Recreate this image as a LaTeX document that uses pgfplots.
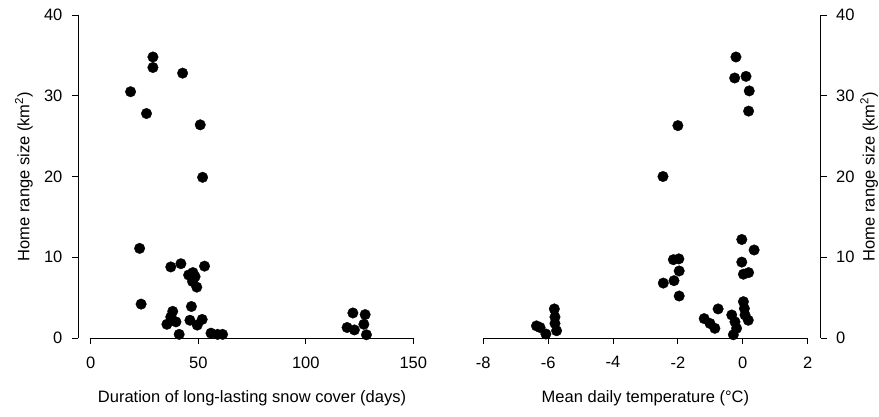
\documentclass[border=0pt]{standalone}
\usepackage{fontspec}
\setmainfont{Liberation Sans}
\usepackage{pgfplots}
\pgfplotsset{compat=1.18}
\pgfplotstableread{
x y
28.9 34.8
28.9 33.5
42.7 32.8
18.5 30.5
25.9 27.8
50.9 26.4
52.0 19.9
22.7 11.1
23.4 4.2
37.2 8.8
41.9 9.2
52.9 8.9
45.5 7.8
47.5 8.1
48.5 7.6
47.3 7.0
49.3 6.3
46.8 3.9
38.1 3.3
37.2 2.6
35.4 1.7
39.6 2.0
41.1 0.45
46.1 2.2
49.5 1.6
51.8 2.3
55.9 0.6
59.0 0.45
61.3 0.45
121.9 3.1
127.6 2.9
119.2 1.3
122.6 1.0
127.0 1.7
128.2 0.4
}\snowdata
\pgfplotstableread{
x y
-0.21 34.8
-0.25 32.2
0.10 32.4
0.20 30.6
0.18 28.1
-2.00 26.3
-2.46 20.0
-0.03 12.2
0.35 10.9
-0.03 9.4
0.02 7.9
0.18 8.1
-2.14 9.7
-1.97 9.8
-1.96 8.3
-2.12 7.1
-2.45 6.8
-1.96 5.2
-0.76 3.6
-1.19 2.4
-1.01 1.8
-0.86 1.2
0.02 4.5
0.05 3.65
0.07 2.85
0.17 2.2
-0.34 2.85
-0.24 2.0
-0.19 1.2
-0.29 0.4
-6.36 1.5
-6.25 1.3
-5.81 3.6
-5.79 2.6
-5.79 1.8
-5.74 0.9
-6.07 0.5
}\tempdata
\pgfplotsset{
  common/.style={
    scale only axis, height=323bp, ymin=0, ymax=40, ytick={0,10,20,30,40},
    tick align=outside, major tick length=6bp,
    font=\fontsize{16.5bp}{19bp}\selectfont,
    /pgf/number format/assume math mode=true,
    axis x line*=bottom, x axis line style={draw=none},
    y axis line style={-, line width=0.8bp, black},
    every tick/.style={black, line width=0.8bp},
    xticklabel style={yshift=-9bp},
    clip=false,
    every axis x label/.style={at={(axis description cs:0.5,0)}, anchor=center, yshift=-60bp},
  },
  dots/.style={only marks, mark=*, mark size=5.3bp, mark options={fill=black, draw=black, line width=0.3bp}},
}
\begin{document}
\begin{tikzpicture}[x=1bp,y=1bp]
\useasboundingbox (0,0) rectangle (879,416);
\begin{axis}[common, at={(77.9bp,78bp)}, anchor=south west, width=348.3bp,
  xmin=-6, xmax=156, xtick={0,50,100,150}, axis y line*=left,
  yticklabel style={xshift=-6bp},
  every axis y label/.style={at={(axis description cs:0,0.5)}, xshift=-54bp, rotate=90, anchor=center},
  ylabel={Home range size (km\textsuperscript{2})},
  xlabel={Duration of long-lasting snow cover (days)}]
\draw[line width=0.8bp, black] (axis cs:0,0) -- (axis cs:150,0);
\addplot[dots] table[x=x,y=y] {\snowdata};
\end{axis}
\begin{axis}[common, at={(470.3bp,78bp)}, anchor=south west, width=350.3bp,
  xmin=-8.4, xmax=2.4, xtick={-8,-6,-4,-2,0,2}, axis y line*=right,
  yticklabel style={xshift=6bp},
  every axis y label/.style={at={(axis description cs:1,0.5)}, xshift=48.5bp, rotate=90, anchor=center},
  ylabel={Home range size (km\textsuperscript{2})},
  xlabel={Mean daily temperature (°C)}]
\draw[line width=0.8bp, black] (axis cs:-8,0) -- (axis cs:2,0);
\addplot[dots] table[x=x,y=y] {\tempdata};
\end{axis}
\end{tikzpicture}
\end{document}
